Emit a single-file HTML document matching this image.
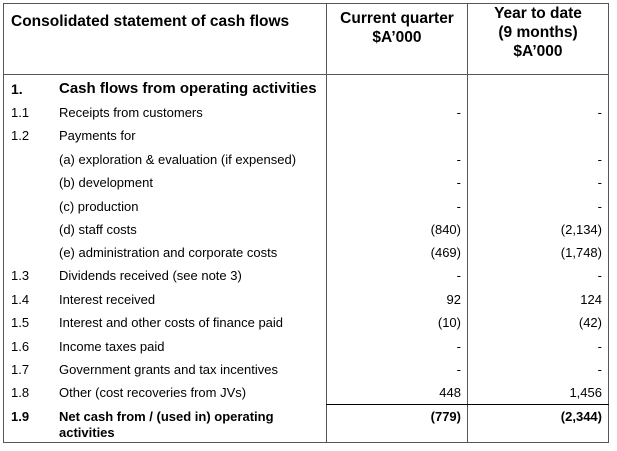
<!DOCTYPE html>
<html><head><meta charset="utf-8"><style>
body{margin:0;width:617px;height:451px;background:#fff;font-family:"Liberation Sans",Arial,sans-serif;color:#000;position:relative;overflow:hidden}
.l{position:absolute;background:#555}
.t{position:absolute;font-size:13px;white-space:nowrap;line-height:15px}
.b{font-weight:bold}
.r{text-align:right}
.h{position:absolute;font-size:15.5px;font-weight:bold;text-align:center;line-height:19px}
</style></head><body>
<div class="l" style="left:3px;top:3px;width:606px;height:1px"></div>
<div class="l" style="left:3px;top:442px;width:606px;height:1px"></div>
<div class="l" style="left:3px;top:3px;width:1px;height:440px"></div>
<div class="l" style="left:608px;top:3px;width:1px;height:440px"></div>
<div class="l" style="left:3px;top:74px;width:606px;height:1px"></div>
<div class="l" style="left:326px;top:3px;width:1px;height:440px"></div>
<div class="l" style="left:467px;top:3px;width:1px;height:440px"></div>
<div class="l" style="left:326px;top:404px;width:283px;height:1px;background:#000"></div>

<div class="h" style="left:11px;top:12px;text-align:left">Consolidated statement of cash flows</div>
<div class="h" style="left:327px;top:9px;width:140px">Current quarter<br>$A’000</div>
<div class="h" style="left:468px;top:4px;width:140px">Year to date<br>(9 months)<br>$A’000</div>

<div id="rows"></div>
<script>
const nums=["1.","1.1","1.2","","","","","","1.3","1.4","1.5","1.6","1.7","1.8","1.9"];
const labels=["Cash flows from operating activities","Receipts from customers","Payments for","(a)  exploration & evaluation (if expensed)","(b)  development","(c)  production","(d)  staff costs","(e)  administration and corporate costs","Dividends received (see note 3)","Interest received","Interest and other costs of finance paid","Income taxes paid","Government grants and tax incentives","Other (cost recoveries from JVs)","Net cash from / (used in) operating"];
const cq=["","-","","-","-","-","(840)","(469)","-","92","(10)","-","-","448","(779)"];
const ytd=["","-","","-","-","-","(2,134)","(1,748)","-","124","(42)","-","-","1,456","(2,344)"];
const ys=[82,105,128,152,175,199,222,245,268,292,315,339,362,385,409];
const c=document.getElementById('rows');
function add(txt,l,top,cls,w,name){const d=document.createElement('div');d.className='t '+cls;d.textContent=txt;d.style.left=l+'px';d.style.top=top+'px';if(w)d.style.width=w+'px';


c.appendChild(d);return d;}
labels.forEach((lab,i)=>{const bold=(i==0||i==14)?'b':'';const sub=(i>=3&&i<=7);
const fs=i==0?'font-size:15px':'';
if(nums[i]){const n=add(nums[i],11,ys[i],bold,0,'row-number');if(i==0)n.style.fontSize='14px';}
const L=add(lab,sub?59:59,ys[i],bold,0,'row-label');if(i==0){L.style.fontSize='15px';L.style.top=(ys[i]-1)+'px';}
if(i==14)add('activities',59,ys[i]+16,bold,0,'row-label-cont');
if(cq[i])add(cq[i],330,ys[i],'r '+bold,131,'current-quarter-value');
if(ytd[i])add(ytd[i],470,ys[i],'r '+bold,132,'ytd-value');
});
</script>
</body></html>
